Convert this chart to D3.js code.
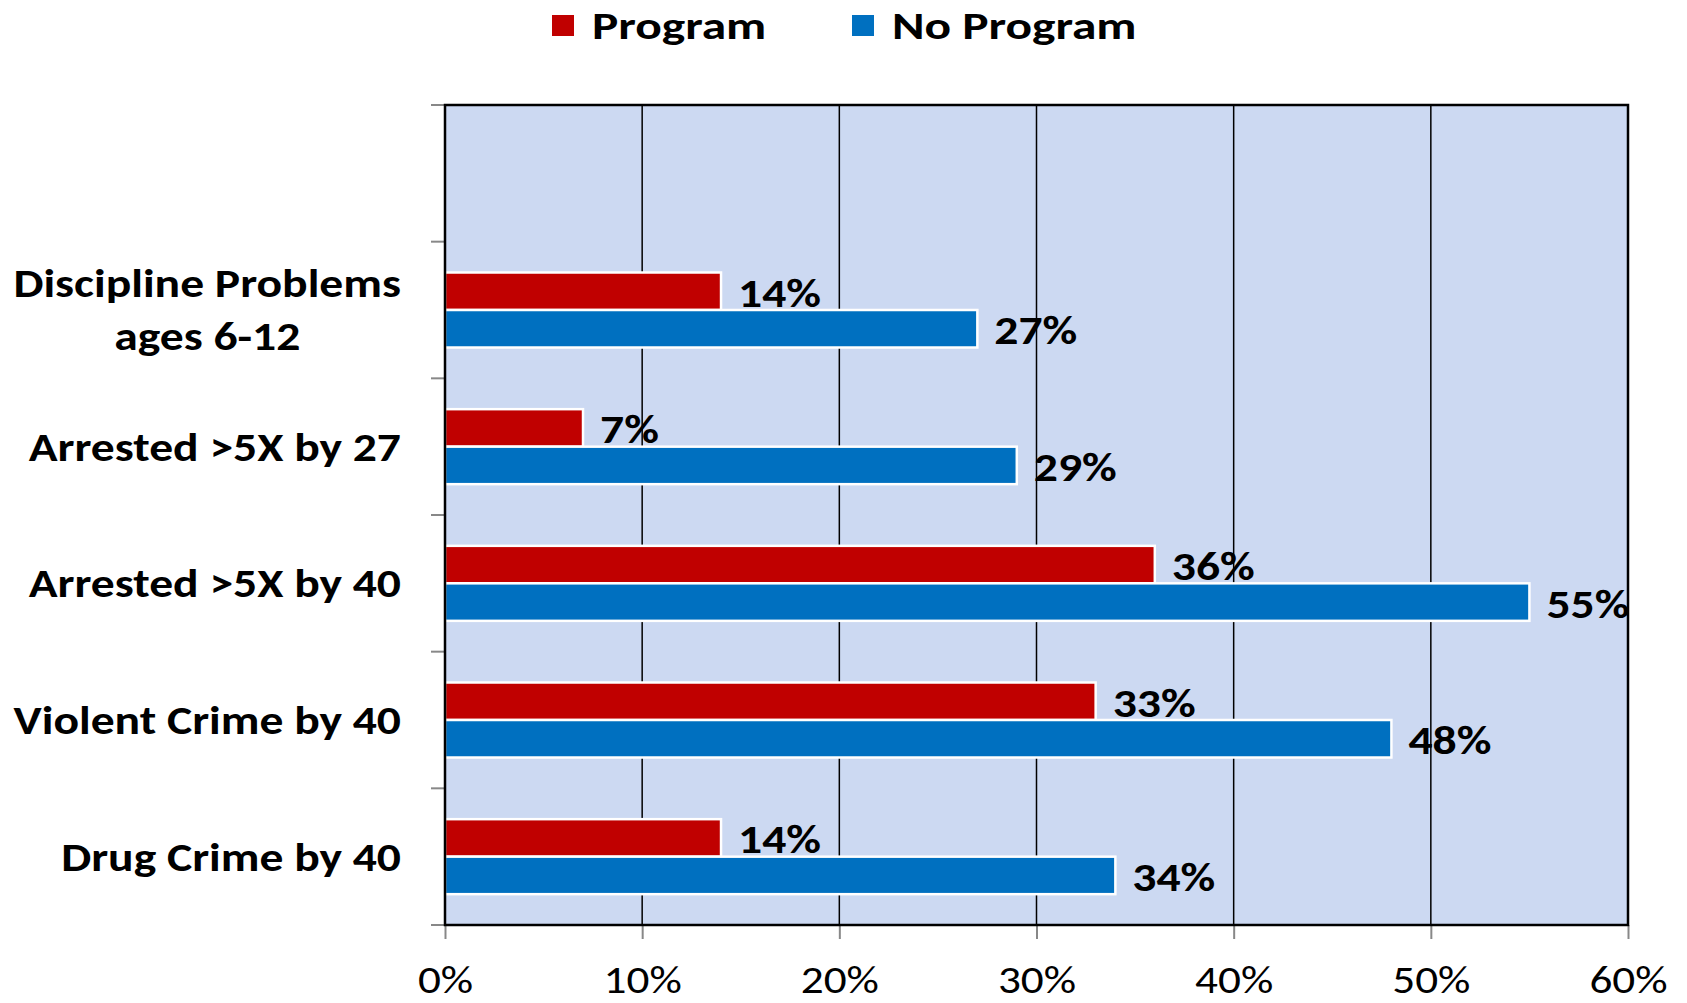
<!DOCTYPE html>
<html><head><meta charset="utf-8">
<script src="https://cdn.jsdelivr.net/npm/d3@7"></script>
<style>
body{margin:0;background:#fff;}
svg{display:block;}
text{font-family:Carlito, Calibri, Lato, "Open Sans", sans-serif;}
</style></head>
<body>
<svg id="chart" width="1687" height="1003"></svg>
<script>
const categories = ["", "Discipline Problems|ages 6-12", "Arrested >5X by 27", "Arrested >5X by 40", "Violent Crime by 40", "Drug Crime by 40"];
const programValues = [null, 14, 7, 36, 33, 14];
const noProgramValues = [null, 27, 29, 55, 48, 34];
const seriesNames = ["Program", "No Program"];
const seriesColors = ["#C00000", "#0070C0"];
const xTicks = [0, 10, 20, 30, 40, 50, 60];

const svg = d3.select("#chart");
const L = 445, R = 1628, T = 105, B = 925;
const SX = 1.19;      // horizontal stretch of text (reference glyphs are wide)
const x = d3.scaleLinear().domain([0, 60]).range([L, R]);
const y = d3.scaleBand().domain(categories.map((c,i)=>i)).range([T, B]);
const barH = 37.5;

// plot background
svg.append("rect").attr("x", L).attr("y", T).attr("width", R-L).attr("height", B-T).attr("fill", "#CCD9F2");

// gridlines
svg.append("g").selectAll("line").data(xTicks.filter(t=>t>0 && t<60)).join("line")
  .attr("x1", d=>x(d)).attr("x2", d=>x(d)).attr("y1", T).attr("y2", B)
  .attr("stroke", "#000").attr("stroke-width", 1.5);

// bars
const series = [programValues, noProgramValues];
series.forEach((vals, si) => {
  const data = vals.map((v,i)=>({v, i})).filter(d=>d.v !== null);
  const g = svg.append("g");
  const barY = d => y(d.i) + y.bandwidth()/2 - barH + si*barH;
  g.selectAll("rect").data(data).join("rect")
    .attr("x", x(0))
    .attr("y", barY)
    .attr("width", d => x(d.v) - x(0))
    .attr("height", barH)
    .attr("fill", seriesColors[si])
    .attr("stroke", "#fff").attr("stroke-width", 2.5);
  g.selectAll("text").data(data).join("text")
    .attr("transform", d => `translate(${x(d.v) + 17},${barY(d) + barH/2 + 15.5}) scale(${SX},1)`)
    .attr("font-size", 40).attr("font-weight", "bold").attr("fill", "#000")
    .text(d => d.v + "%");
});

// x axis ticks
const xAxis = d3.axisBottom(x).tickValues(xTicks).tickFormat(d => d + "%").tickSize(14);
const xg = svg.append("g").attr("transform", `translate(0,${B})`).call(xAxis);
xg.select(".domain").remove();
xg.selectAll(".tick line").attr("stroke", "#888").attr("stroke-width", 2);
xg.selectAll(".tick text").attr("y", 68).attr("dy", 0).attr("transform", `scale(${SX},1)`)
  .attr("font-size", 38).attr("fill", "#000").attr("font-family", "Carlito, Calibri, Lato, 'Open Sans', sans-serif");

// y tick marks at band boundaries
const yBounds = categories.map((c,i)=>y(i)).concat([B]);
svg.append("g").selectAll("line").data(yBounds).join("line")
  .attr("x1", L-14).attr("x2", L).attr("y1", d=>d).attr("y2", d=>d)
  .attr("stroke", "#888").attr("stroke-width", 2);

// border
svg.append("rect").attr("x", L).attr("y", T).attr("width", R-L).attr("height", B-T)
  .attr("fill", "none").attr("stroke", "#000").attr("stroke-width", 2.5);

// category labels
const labelRight = 401;
categories.forEach((c, i) => {
  if (!c) return;
  const lines = c.split("|");
  const cy = y(i) + y.bandwidth()/2;
  const g = svg.append("g").attr("transform", `translate(${labelRight},0) scale(${SX},1)`);
  const t = g.append("text").attr("font-size", 40).attr("font-weight", "bold").attr("fill", "#000");
  const lh = 53;
  lines.forEach((ln, k) => {
    t.append("tspan").attr("y", cy + 14 - (lines.length-1)*lh/2 + k*lh).text(ln);
  });
  let maxW = 0;
  t.selectAll("tspan").each(function(){ maxW = Math.max(maxW, this.getComputedTextLength()); });
  t.attr("text-anchor", "middle");
  t.selectAll("tspan").attr("x", -maxW/2);
});

// legend
const legX = [552, 852];
const LSX = 1.3;
seriesNames.forEach((n, i) => {
  svg.append("rect").attr("x", legX[i]).attr("y", 15).attr("width", 22).attr("height", 21).attr("fill", seriesColors[i]);
  svg.append("text").attr("transform", `translate(${legX[i] + 40},39) scale(${LSX},1)`)
    .attr("font-size", 38).attr("font-weight", "bold").attr("fill", "#000").text(n);
});
</script>
</body></html>
